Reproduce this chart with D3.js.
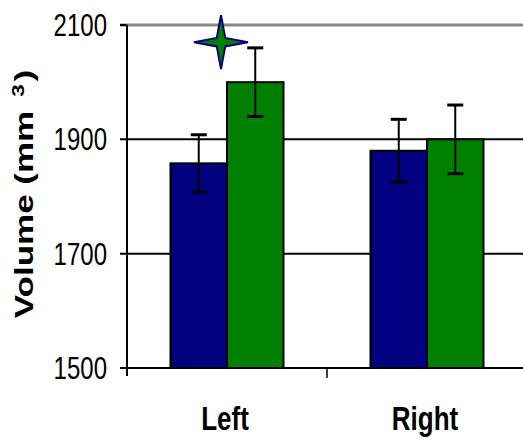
<!DOCTYPE html>
<html>
<head>
<meta charset="utf-8">
<script src="https://cdn.jsdelivr.net/npm/d3@7"></script>
<style>
  body { margin: 0; background: #fff; }
  svg { display: block; }
</style>
</head>
<body>
<svg id="chart" width="523" height="439"></svg>
<script>
// data
const categories = ['Left', 'Right'];
const series = ['A', 'B'];
const means = [[1858, 2000], [1880, 1900]];
const errors = [[50, 60], [55, 60]];
const yTicks = [1500, 1700, 1900, 2100];
const starPoint = { category: 'Left', value: 2070 };

const colors = ['#000080', '#008000'];

const svg = d3.select('#chart');

const plotL = 127, plotR = 527, plotT = 25, plotB = 368;

let y = d3.scaleLinear().domain([1500, 2100]).range([plotB, plotT]);
let x = d3.scaleBand().domain(categories).range([plotL, plotR]).padding(0);
let xs = d3.scaleBand().domain(series).range([0, x.bandwidth()]).paddingInner(0).paddingOuter(0.77);

// gridlines + left ticks
svg.append('g').selectAll('line')
  .data(yTicks.filter(d => d > 1500))
  .enter().append('line')
  .attr('x1', plotL - 7).attr('x2', 523)
  .attr('y1', d => y(d)).attr('y2', d => y(d))
  .attr('stroke', d => d === 2100 ? '#888' : '#000')
  .attr('stroke-width', d => d === 2100 ? 3 : 2);

// left tick of the top line is black
svg.append('line')
  .attr('x1', plotL - 7).attr('x2', plotL)
  .attr('y1', y(2100)).attr('y2', y(2100))
  .attr('stroke', '#000').attr('stroke-width', 2);

// tick labels
svg.append('g').selectAll('text')
  .data(yTicks)
  .enter().append('text')
  .attr('transform', d => 'translate(107,' + y(d) + ') scale(1,1.27)')
  .attr('text-anchor', 'end')
  .attr('dy', '0.36em')
  .attr('font-family', 'Liberation Sans, Arial, sans-serif')
  .attr('font-size', 24)
  .attr('fill', '#000')
  .text(d => d);

// bars
const groups = svg.append('g').selectAll('g')
  .data(categories)
  .enter().append('g')
  .attr('transform', d => 'translate(' + x(d) + ',0)');

groups.selectAll('rect')
  .data((d, i) => means[i].map((v, j) => ({ s: series[j], v: v, e: errors[i][j], j: j })))
  .enter().append('rect')
  .attr('x', d => xs(d.s))
  .attr('y', d => y(d.v))
  .attr('width', xs.bandwidth())
  .attr('height', d => y(1500) - y(d.v))
  .attr('fill', d => colors[d.j])
  .attr('stroke', '#000')
  .attr('stroke-width', 2);

// error bars
const eb = groups.selectAll('g.err')
  .data((d, i) => means[i].map((v, j) => ({ s: series[j], v: v, e: errors[i][j] })))
  .enter().append('g').attr('class', 'err');

eb.append('line')
  .attr('x1', d => xs(d.s) + xs.bandwidth() / 2)
  .attr('x2', d => xs(d.s) + xs.bandwidth() / 2)
  .attr('y1', d => y(d.v + d.e)).attr('y2', d => y(d.v - d.e))
  .attr('stroke', '#000').attr('stroke-width', 2);

eb.selectAll('line.cap')
  .data(d => [d.v + d.e, d.v - d.e].map(val => ({ s: d.s, val: val })))
  .enter().append('line').attr('class', 'cap')
  .attr('x1', d => xs(d.s) + xs.bandwidth() / 2 - 8)
  .attr('x2', d => xs(d.s) + xs.bandwidth() / 2 + 8)
  .attr('y1', d => y(d.val)).attr('y2', d => y(d.val))
  .attr('stroke', '#000').attr('stroke-width', 3);

// axes lines
svg.append('line')
  .attr('x1', plotL).attr('x2', plotL)
  .attr('y1', plotT).attr('y2', plotB + 8)
  .attr('stroke', '#000').attr('stroke-width', 2);
svg.append('line')
  .attr('x1', plotL - 7).attr('x2', 523)
  .attr('y1', plotB).attr('y2', plotB)
  .attr('stroke', '#000').attr('stroke-width', 2);
svg.append('line')
  .attr('x1', x('Right')).attr('x2', x('Right'))
  .attr('y1', plotB).attr('y2', plotB + 10)
  .attr('stroke', '#000').attr('stroke-width', 1.5);

// category labels
svg.append('g').selectAll('text')
  .data(categories)
  .enter().append('text')
  .attr('transform', d => 'translate(' + (x(d) + x.bandwidth() / 2 - 2) + ',430) scale(1,1.25)')
  .attr('text-anchor', 'middle')
  .attr('font-family', 'Liberation Sans, Arial, sans-serif')
  .attr('font-weight', 'bold')
  .attr('font-size', 26)
  .attr('fill', '#000')
  .text(d => d);

// star marker
let star = [];
for (let k = 0; k < 8; k++) {
  let r = k % 2 === 0 ? 27 : 6;
  let a = k * Math.PI / 4;
  star.push([r * Math.sin(a), -r * Math.cos(a)]);
}
svg.append('path')
  .attr('d', d3.line()(star) + 'Z')
  .attr('transform', 'translate(' + (x(starPoint.category) + x.bandwidth() / 2 - 6) + ',' + y(starPoint.value) + ')')
  .attr('fill', '#008000')
  .attr('stroke', '#000080')
  .attr('stroke-width', 2)
  .attr('stroke-linejoin', 'miter');

// y title
const title = svg.append('text')
  .attr('transform', 'translate(33,194) scale(1,1.4) rotate(-90)')
  .attr('text-anchor', 'middle')
  .attr('font-family', 'Liberation Sans, Arial, sans-serif')
  .attr('font-weight', 'bold')
  .attr('font-size', 25)
  .attr('fill', '#000');
title.append('tspan').text('Volume (mm');
title.append('tspan').attr('dx', 10).attr('dy', -9).attr('font-size', 16).text('3');
title.append('tspan').attr('dx', 2).attr('dy', 9).text(')');
</script>
</body>
</html>
